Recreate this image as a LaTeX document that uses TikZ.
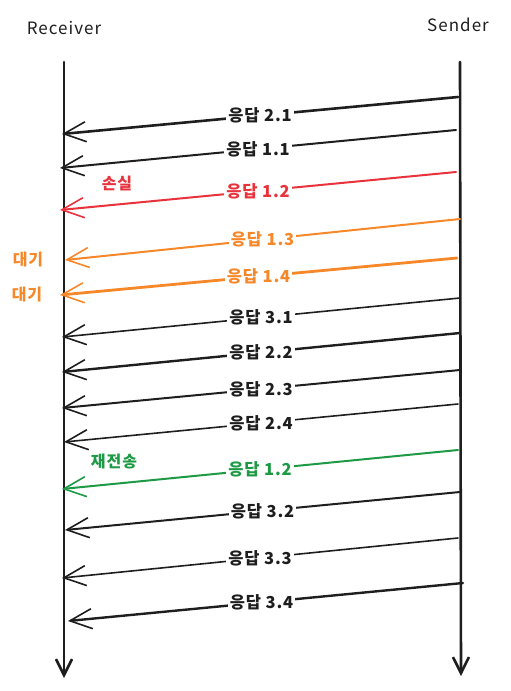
\documentclass[tikz,border=0pt]{standalone}
\usepackage{fontspec}
\setmainfont{Noto Sans CJK KR}
\usepackage{tikz}
\usetikzlibrary{arrows.meta}

\definecolor{inkblack}{HTML}{1E1E1E}
\definecolor{lostred}{HTML}{E8323C}
\definecolor{waitorange}{HTML}{F7882A}
\definecolor{resendgreen}{HTML}{1E9A46}

\begin{document}
\begin{tikzpicture}[
            x=1pt, y=-1pt,
            actor/.style={font=\fontsize{17}{20}\selectfont\addfontfeature{LetterSpace=6}, text=inkblack},
            lifeline/.style={-{Straight Barb[length=16pt, width=16pt]}, line width=2.6pt, draw=inkblack, line cap=round},
            msg/.style={-{Straight Barb[length=22pt, width=20pt, line width=1.6pt]}, line width=2pt, draw=inkblack, line cap=round},
            lbl/.style={fill=white, inner sep=2pt, font=\fontsize{16.5}{19}\selectfont\bfseries\addfontfeature{LetterSpace=5}, text=inkblack},
            note/.style={font=\fontsize{16}{19}\selectfont\bfseries\addfontfeature{LetterSpace=6}},
            lost/.style={msg, draw=lostred},
            waiting/.style={msg, draw=waitorange},
            resend/.style={msg, draw=resendgreen}
        ]
        \useasboundingbox (0,0) rectangle (511,691);

        \node[actor] (recv) at (64,28) {Receiver};
        \node[actor] (send) at (458,25) {Sender};

        \coordinate (recvtop) at (64,62);
        \coordinate (recvbot) at (64,678);
        \coordinate (sendtop) at (460,62);
        \coordinate (sendbot) at (461,676);
        \draw[lifeline] (recvtop) -- (recvbot);
        \draw[lifeline] (sendtop) -- (sendbot);

        % message end points
        \coordinate (s1) at (458,97);   \coordinate (r1) at (62,134);
        \coordinate (s2) at (456,130);  \coordinate (r2) at (60,168);
        \coordinate (s3) at (456,172);  \coordinate (r3) at (60,210);
        \coordinate (s4) at (460,219);  \coordinate (r4) at (65,260);
        \coordinate (s5) at (457,258);  \coordinate (r5) at (60,295);
        \coordinate (s6) at (460,298);  \coordinate (r6) at (62,337);
        \coordinate (s7) at (460,333);  \coordinate (r7) at (62,372);
        \coordinate (s8) at (460,370);  \coordinate (r8) at (62,408);
        \coordinate (s9) at (458,404);  \coordinate (r9) at (64,442);
        \coordinate (s10) at (458,450); \coordinate (r10) at (62,489);
        \coordinate (s11) at (460,492); \coordinate (r11) at (65,530);
        \coordinate (s12) at (458,538); \coordinate (r12) at (62,578);
        \coordinate (s13) at (463,583); \coordinate (r13) at (68,621);

        \draw[msg, line width=2.6pt] (s1) -- node[lbl] (m1) {응답 2.1} (r1);
        \draw[msg] (s2) -- node[lbl] (m2) {응답 1.1} (r2);
        \draw[lost] (s3) -- node[lbl, text=lostred] (m3) {응답 1.2} (r3);
        \draw[waiting] (s4) -- node[lbl, text=waitorange] (m4) {응답 1.3} (r4);
        \draw[waiting, line width=2.8pt] (s5) -- node[lbl, text=waitorange] (m5) {응답 1.4} (r5);
        \draw[msg, line width=1.6pt] (s6) -- node[lbl] (m6) {응답 3.1} (r6);
        \draw[msg, line width=2.4pt] (s7) -- node[lbl] (m7) {응답 2.2} (r7);
        \draw[msg] (s8) -- node[lbl] (m8) {응답 2.3} (r8);
        \draw[msg, line width=1.6pt] (s9) -- node[lbl] (m9) {응답 2.4} (r9);
        \draw[resend] (s10) -- node[lbl, text=resendgreen] (m10) {응답 1.2} (r10);
        \draw[msg] (s11) -- node[lbl] (m11) {응답 3.2} (r11);
        \draw[msg, line width=1.6pt] (s12) -- node[lbl] (m12) {응답 3.3} (r12);
        \draw[msg, line width=2.4pt] (s13) -- node[lbl, pos=0.51] (m13) {응답 3.4} (r13);

        \node[note, text=lostred] (lostnote) at (117,183) {손실};
        \node[note, text=waitorange] (wait1) at (28,259) {대기};
        \node[note, text=waitorange] (wait2) at (27,294) {대기};
        \node[note, text=resendgreen] (resendnote) at (114,462) {재전송};
    \end{tikzpicture}
\end{document}
